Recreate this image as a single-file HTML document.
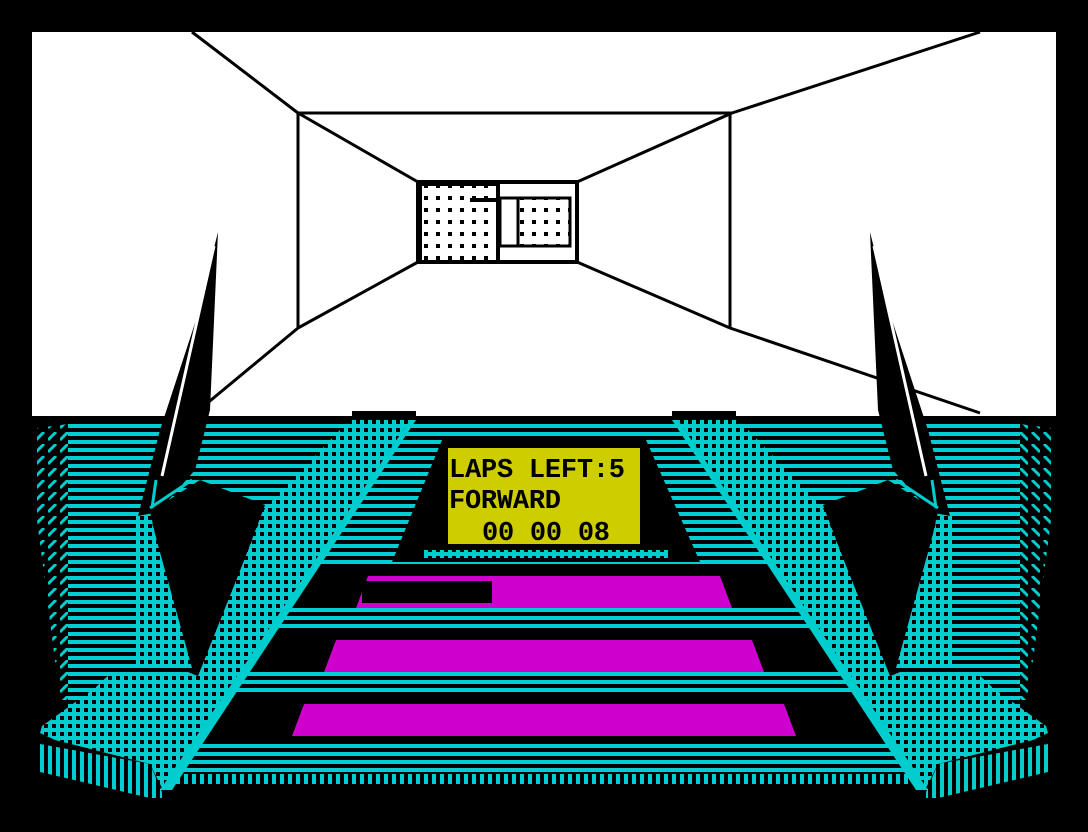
<!DOCTYPE html>
<html><head><meta charset="utf-8"><style>
html,body{margin:0;padding:0;background:#000;}
svg{display:block;}
</style></head><body>
<svg width="1088" height="832" viewBox="0 0 1088 832" xmlns="http://www.w3.org/2000/svg">
<defs>
<pattern id="hs" x="0" y="424" width="8" height="8" patternUnits="userSpaceOnUse">
<rect width="8" height="4" fill="#00CDCD"/></pattern>
<pattern id="vs" x="0" y="0" width="8" height="8" patternUnits="userSpaceOnUse">
<rect width="4" height="8" fill="#00CDCD"/></pattern>
<pattern id="dots" x="0" y="0" width="8" height="8" patternUnits="userSpaceOnUse">
<rect width="8" height="8" fill="#00CDCD"/><rect x="4" y="4" width="4" height="4" fill="#000"/></pattern>
<pattern id="wdots" x="0" y="0" width="12" height="12" patternUnits="userSpaceOnUse">
<rect width="12" height="12" fill="#fff"/><rect x="4" y="4" width="4" height="4" fill="#000"/></pattern>
<pattern id="diag" x="0" y="0" width="12" height="12" patternUnits="userSpaceOnUse">
<path d="M0 8 L8 0" stroke="#00CDCD" stroke-width="3"/></pattern>
<g id="side">
 <polygon points="37,428 68,424 68,700 60,700 37,520" fill="url(#diag)"/>
 <polygon points="218,232 210,410 195,470 158,512 138,516 160,430 196,320" fill="#000"/>
 <line x1="214" y1="246" x2="162" y2="476" stroke="#fff" stroke-width="3"/>
 <line x1="150" y1="508" x2="192" y2="480" stroke="#00CDCD" stroke-width="3"/>
 <line x1="156" y1="480" x2="152" y2="508" stroke="#00CDCD" stroke-width="3"/>
 <polygon points="150,512 200,480 265,505 200,677 188,672" fill="#000"/>
 <polygon points="132,516 150,516 192,668 132,668" fill="url(#dots)"/>
 <polygon points="352,420 410,420 162,788 150,764 55,740 40,733 42,726 95,688 112,672 198,676 265,508 340,430" fill="url(#dots)"/>
 <polygon points="410,420 416,420 172,790 160,790" fill="#00CDCD"/>
 <polygon points="40,744 150,764 162,792 162,798 150,798 40,772" fill="url(#vs)"/>
 <rect x="352" y="411" width="64" height="5" fill="#000"/>
</g>
</defs>
<rect width="1088" height="832" fill="#000"/>
<rect x="32" y="32" width="1024" height="384" fill="#fff"/>
<g stroke="#000" stroke-width="3" fill="none">
<line x1="192" y1="32" x2="298" y2="113"/>
<line x1="980" y1="32" x2="732" y2="113"/>
<line x1="298" y1="113" x2="732" y2="113"/>
<line x1="298" y1="113" x2="298" y2="328"/>
<line x1="730" y1="113" x2="730" y2="328"/>
<line x1="298" y1="113" x2="418" y2="182"/>
<line x1="732" y1="113" x2="577" y2="182"/>
<line x1="298" y1="328" x2="418" y2="262"/>
<line x1="730" y1="328" x2="577" y2="262"/>
<line x1="298" y1="328" x2="205" y2="405"/>
<line x1="730" y1="328" x2="980" y2="413"/>
</g>
<rect x="418" y="182" width="159" height="80" fill="none" stroke="#000" stroke-width="4"/>
<rect x="420" y="184" width="78" height="78" fill="url(#wdots)" stroke="#000" stroke-width="4"/>
<rect x="470" y="198" width="100" height="4" fill="#000"/>
<rect x="500" y="198" width="18" height="48" fill="#fff" stroke="#000" stroke-width="3"/>
<rect x="518" y="198" width="52" height="48" fill="url(#wdots)" stroke="#000" stroke-width="3"/>
<rect x="68" y="424" width="952" height="312" fill="url(#hs)"/>
<rect x="170" y="736" width="750" height="36" fill="url(#hs)"/>
<polygon points="442,440 646,440 700,562 392,562" fill="#000"/>
<rect x="424" y="550" width="244" height="8" fill="url(#dots)"/>
<rect x="448" y="448" width="192" height="96" fill="#CDCD00"/>
<g font-family="'Liberation Mono', monospace" font-size="27" font-weight="bold" fill="#000">
<text x="449" y="477" textLength="176">LAPS LEFT:5</text>
<text x="449" y="508" textLength="112">FORWARD</text>
<text x="482" y="540" textLength="128">00 00 08</text>
</g>
<rect x="200" y="568" width="690" height="40" fill="#000"/>
<rect x="200" y="632" width="690" height="40" fill="#000"/>
<rect x="200" y="696" width="690" height="44" fill="#000"/>
<polygon points="368,576 720,576 732,608 356,608" fill="#CD00CD"/>
<rect x="362" y="581" width="130" height="22" fill="#000"/>
<polygon points="336,640 752,640 764,672 324,672" fill="#CD00CD"/>
<polygon points="304,704 784,704 796,736 292,736" fill="#CD00CD"/>
<rect x="170" y="740" width="750" height="32" fill="url(#hs)"/>
<rect x="172" y="774" width="750" height="10" fill="url(#vs)"/>
<use href="#side"/>
<use href="#side" transform="translate(1088,0) scale(-1,1)"/>
</svg>
</body></html>
